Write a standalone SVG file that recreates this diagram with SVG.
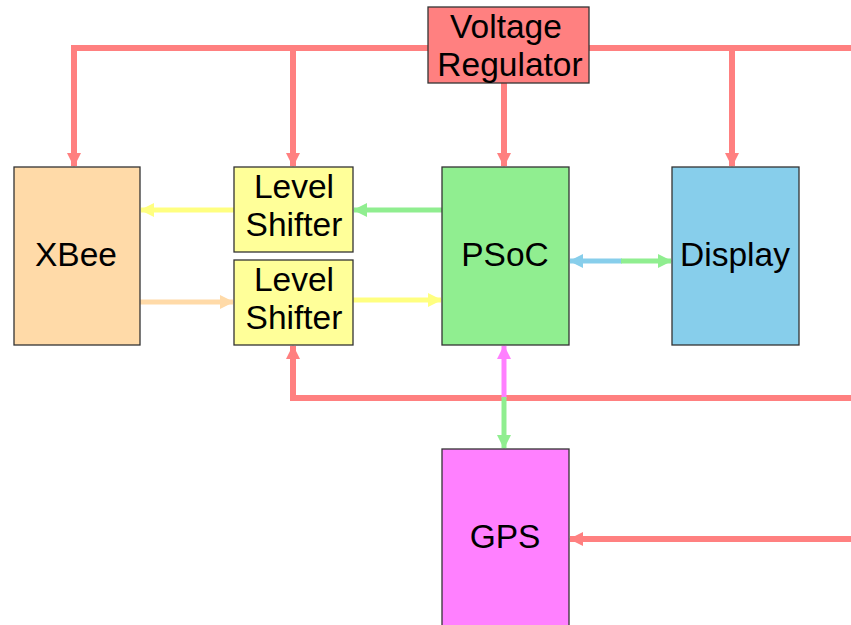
<svg xmlns="http://www.w3.org/2000/svg" width="851" height="625" viewBox="0 0 851 625">
<style>
.box{stroke:#333;stroke-width:1.3}
.t{font-family:"Liberation Sans",Arial,sans-serif;font-size:33.5px;fill:#000;text-anchor:middle}
.c{fill:none;stroke-width:6}
.th{fill:none;stroke-width:5}
</style>
<defs>
<marker id="aR" markerUnits="userSpaceOnUse" markerWidth="16" markerHeight="16" refX="13" refY="8" orient="auto"><path d="M0,1 L14,8 L0,15 Z" fill="#FF8080"/></marker>
<marker id="aY" markerUnits="userSpaceOnUse" markerWidth="16" markerHeight="16" refX="13" refY="8" orient="auto"><path d="M0,1 L14,8 L0,15 Z" fill="#FFFF80"/></marker>
<marker id="aG" markerUnits="userSpaceOnUse" markerWidth="16" markerHeight="16" refX="13" refY="8" orient="auto"><path d="M0,1 L14,8 L0,15 Z" fill="#90EE90"/></marker>
<marker id="aO" markerUnits="userSpaceOnUse" markerWidth="16" markerHeight="16" refX="13" refY="8" orient="auto"><path d="M0,1 L14,8 L0,15 Z" fill="#FFDAA8"/></marker>
<marker id="aB" markerUnits="userSpaceOnUse" markerWidth="16" markerHeight="16" refX="13" refY="8" orient="auto"><path d="M0,1 L14,8 L0,15 Z" fill="#87CEEB"/></marker>
<marker id="aP" markerUnits="userSpaceOnUse" markerWidth="16" markerHeight="16" refX="13" refY="8" orient="auto"><path d="M0,1 L14,8 L0,15 Z" fill="#FF80FF"/></marker>
</defs>
<g id="connectors">
<path class="c" stroke="#FF8080" d="M851,48 H74 V166" marker-end="url(#aR)"/>
<path class="c" stroke="#FF8080" d="M293,48 V166" marker-end="url(#aR)"/>
<path class="c" stroke="#FF8080" d="M504,83 V166" marker-end="url(#aR)"/>
<path class="c" stroke="#FF8080" d="M732,48 V166" marker-end="url(#aR)"/>
<path class="c" stroke="#FF8080" d="M851,398 H293 V346" marker-end="url(#aR)"/>
<path class="c" stroke="#FF8080" d="M851,539 H570" marker-end="url(#aR)"/>
<path class="th" stroke="#FFFF80" d="M234,210 H141" marker-end="url(#aY)"/>
<path class="th" stroke="#90EE90" d="M442,210 H354" marker-end="url(#aG)"/>
<path class="th" stroke="#FFDAA8" d="M140,302 H233" marker-end="url(#aO)"/>
<path class="th" stroke="#FFFF80" d="M353,300 H441" marker-end="url(#aY)"/>
<path class="th" stroke="#87CEEB" d="M622,261 H570" marker-end="url(#aB)"/>
<path class="th" stroke="#90EE90" d="M621,261 H671" marker-end="url(#aG)"/>
<path class="th" stroke="#FF80FF" d="M504,398 V346" marker-end="url(#aP)"/>
<path class="th" stroke="#90EE90" d="M504,397 V448" marker-end="url(#aG)"/>
</g>
<g id="vreg"><rect class="box" x="428" y="7" width="161" height="76" fill="#FF8080"/><text class="t" x="506" y="38">Voltage</text><text class="t" x="510" y="76">Regulator</text></g>
<g id="xbee"><rect class="box" x="14" y="167" width="126" height="178" fill="#FFDAA8"/><text class="t" x="76" y="266">XBee</text></g>
<g id="ls1"><rect class="box" x="234" y="167" width="119" height="85" fill="#FFFF99"/><text class="t" x="294" y="198">Level</text><text class="t" x="294" y="236">Shifter</text></g>
<g id="ls2"><rect class="box" x="234" y="260" width="119" height="85" fill="#FFFF99"/><text class="t" x="294" y="291">Level</text><text class="t" x="294" y="329">Shifter</text></g>
<g id="psoc"><rect class="box" x="442" y="167" width="127" height="178" fill="#90EE90"/><text class="t" x="505" y="266">PSoC</text></g>
<g id="display"><rect class="box" x="672" y="167" width="127" height="178" fill="#87CEEB"/><text class="t" x="735" y="266">Display</text></g>
<g id="gps"><rect class="box" x="442" y="449" width="127" height="190" fill="#FF80FF"/><text class="t" x="505" y="548">GPS</text></g>
</svg>
